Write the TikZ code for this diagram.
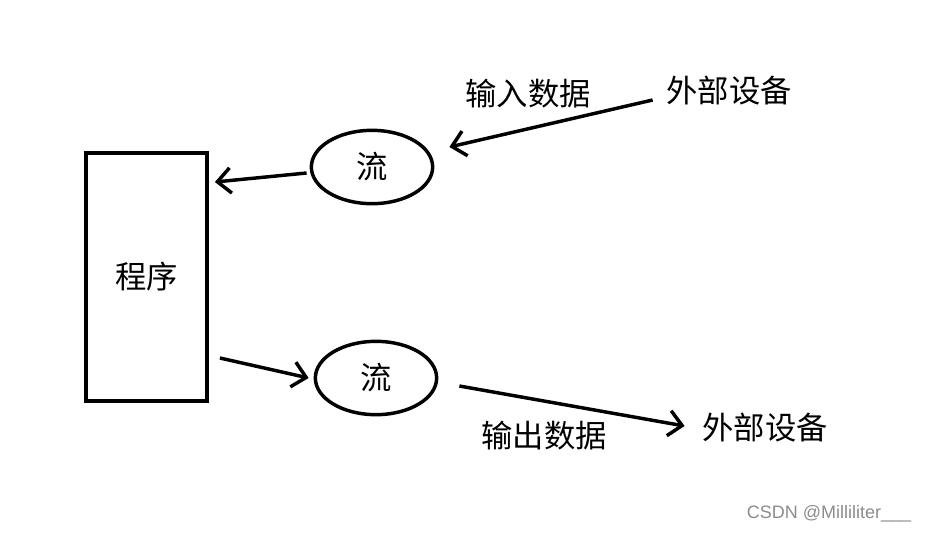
\documentclass[tikz,border=0pt]{standalone}
\usepackage{fontspec}
\newfontfamily\cjk{Noto Sans CJK SC}
\newfontfamily\wmfont{Liberation Sans}
\usetikzlibrary{positioning,shapes,arrows.meta}

\begin{document}
\begin{tikzpicture}[x=0.75pt, y=-0.75pt, line width=2.6pt,
	flow/.style={-{Straight Barb[length=10pt, width=19pt, line width=2.6pt]}},
	word/.style={inner sep=0pt, font=\cjk\fontsize{23.5}{23.5}\selectfont}]
	\useasboundingbox (0,0) rectangle (929,533);

	\node (prog) [rectangle, draw=black, minimum width=91pt, minimum height=186pt, word] at (146.5,277) {程序};
	\node (sin) [ellipse, draw=black, minimum width=91pt, minimum height=55pt, inner sep=0pt, word] at (372,167) {流};
	\node (sout) [ellipse, draw=black, minimum width=91pt, minimum height=55pt, inner sep=0pt, word] at (376,378) {流};
	\node (devin) [word] at (729,91) {外部设备};
	\node (devout) [word] at (765,428) {外部设备};
	\node (lin) [word] at (528,94) {输入数据};
	\node (lout) [word] at (544,436) {输出数据};
	\node (wm) [inner sep=0pt, text=black!45, font=\wmfont\fontsize{13.5}{13.5}\selectfont] at (829,514) {CSDN @Milliliter\_\_\_};

	\draw[flow] ([shift={(-12,9)}]devin.west) -- ([shift={(15,-20)}]sin.east);
	\draw[flow] ([shift={(-3,6)}]sin.west) -- ([shift={(6,-95)}]prog.east);
	\draw[flow] ([shift={(11,81)}]prog.east) -- ([shift={(-5,0)}]sout.west);
	\draw[flow] ([shift={(21,8)}]sout.east) -- ([shift={(-16,-2)}]devout.west);
\end{tikzpicture}
\end{document}
